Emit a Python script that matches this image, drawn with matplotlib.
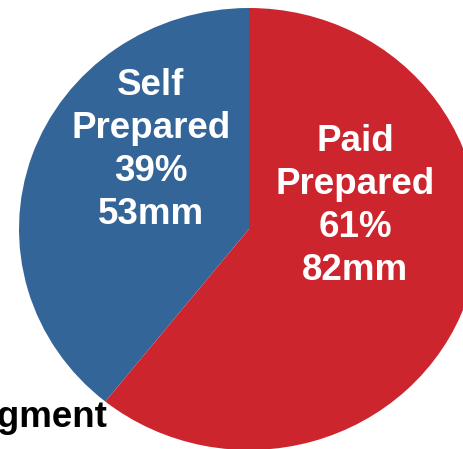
import matplotlib
matplotlib.use("Agg")
import matplotlib.pyplot as plt

# Filing method split
categories = ["Self\nPrepared", "Paid\nPrepared"]
values_mm = [53, 82]
colors = ["#346598", "#CD252E"]

W, H = 463, 449
fig = plt.figure(figsize=(W / 100, H / 100), dpi=100)
ax = fig.add_axes([0, 0, 1, 1])

# pixel geometry of the pie (slightly wider than tall)
cx, cy = 249, 229
rx, ry = 230, 221
xmin = -cx / rx
ymin = -(H - cy) / ry

wedges, _ = ax.pie(values_mm, colors=colors, startangle=90, counterclock=True,
                   radius=1.0, center=(0, 0), frame=True,
                   wedgeprops=dict(linewidth=0, antialiased=True))
ax.set_aspect("auto")
ax.set_xlim(xmin, xmin + W / rx)
ax.set_ylim(ymin, ymin + H / ry)
ax.axis("off")

total = sum(values_mm)
label_px = [(151, 150), (355, 206)]
font = dict(family="Liberation Sans", weight="bold", color="white", fontsize=26.5)
for cat, v, (px, py) in zip(categories, values_mm, label_px):
    pct = round(100 * v / total)
    ax.text((px - cx) / rx, (cy - py) / ry, f"{cat}\n{pct}%\n{v}mm",
            ha="center", va="center", linespacing=1.3, **font)

ax.text(xmin + 108 / rx, ymin + (H - 427) / ry, "Segment", ha="right",
        va="baseline", family="Liberation Sans", weight="bold",
        color="black", fontsize=26.5, zorder=5)

fig.savefig("out.png", dpi=100)
